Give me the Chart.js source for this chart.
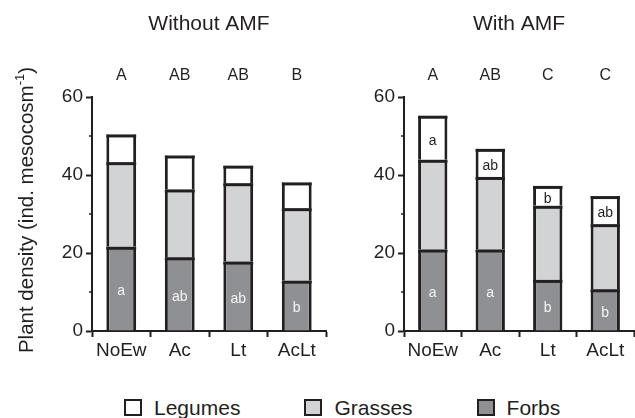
<!DOCTYPE html>
<html>
<head>
<meta charset="utf-8">
<script src="https://cdn.jsdelivr.net/npm/chart.js@4"></script>
<style>
  body { margin: 0; background: #fff; font-family: "Liberation Sans", Arial, sans-serif; }
  #wrap { position: relative; width: 635px; height: 418px; }
  #withoutChart { position: absolute; left: 0; top: 0; }
  #withChart { position: absolute; left: 330px; top: 0; }
  #legend { position: absolute; left: 124px; top: 396px; display: flex; gap: 64px; font-size: 21px; line-height: 23px; color: #231f20; }
  .item { display: flex; align-items: center; }
  .box { width: 14px; height: 13px; border: 2.5px solid #231f20; margin-right: 12px; }
</style>
</head>
<body>
<div id="wrap">
  <canvas id="withoutChart" width="330" height="360"></canvas>
  <canvas id="withChart" width="305" height="360"></canvas>
  <div id="legend"></div>
</div>
<script>
const categories = ['NoEw', 'Ac', 'Lt', 'AcLt']

// Without AMF
const forbsWithout = [21.6, 18.9, 17.8, 12.9]
const grassesWithout = [21.7, 17.4, 20.1, 18.6]
const legumesWithout = [7.1, 8.7, 4.5, 6.6]
const groupsWithout = ['A', 'AB', 'AB', 'B']
const forbLettersWithout = ['a', 'ab', 'ab', 'b']

// With AMF
const forbsWith = [20.9, 20.9, 13.1, 10.7]
const grassesWith = [23.0, 18.6, 19.0, 16.7]
const legumesWith = [11.3, 7.2, 5.1, 7.2]
const groupsWith = ['A', 'AB', 'C', 'C']
const forbLettersWith = ['a', 'a', 'b', 'b']
const legumeLettersWith = ['a', 'ab', 'b', 'ab']

const yMajorTicks = [0, 20, 40, 60]
const yMinorTicks = [10, 30, 50]

const ink = '#231f20'
const forbColor = '#8f9093'
const grassColor = '#d2d3d5'
const legumeColor = '#ffffff'
const fontFamily = '"Liberation Sans", Arial, sans-serif'

Chart.defaults.font.family = fontFamily
Chart.defaults.color = ink

// segment top edges, titles, group letters, letters inside bars, minor y ticks, y title with superscript
const letterPlugin = {
    id: 'letters',
    afterDatasetsDraw(chart, args, opts) {
        const ctx = chart.ctx
        const area = chart.chartArea
        const xScale = chart.scales.x
        const yScale = chart.scales.y
        ctx.save()

        // top edge of every stacked segment (chart.js drops some of them when stacked)
        ctx.strokeStyle = ink
        ctx.lineWidth = 3
        chart.data.datasets.forEach((ds, di) => {
            chart.getDatasetMeta(di).data.forEach(bar => {
                const p = bar.getProps(['x', 'y', 'width'], true)
                ctx.beginPath()
                ctx.moveTo(p.x - p.width / 2, p.y + 1.5)
                ctx.lineTo(p.x + p.width / 2, p.y + 1.5)
                ctx.stroke()
            })
        })

        ctx.fillStyle = ink
        ctx.textAlign = 'center'
        ctx.textBaseline = 'middle'
        ctx.font = '21px ' + fontFamily
        ctx.fillText(opts.title, (area.left + area.right) / 2, area.top - 73)
        ctx.font = '16px ' + fontFamily
        opts.groups.forEach((g, i) => ctx.fillText(g, xScale.getPixelForValue(i), area.top - 21))

        ctx.font = '14px ' + fontFamily
        chart.data.datasets.forEach((ds, di) => {
            if (!ds.letters) return
            ctx.fillStyle = ds.letterColor
            chart.getDatasetMeta(di).data.forEach((bar, i) => {
                const p = bar.getProps(['x', 'y', 'base'], true)
                ctx.fillText(ds.letters[i], p.x, (p.y + p.base) / 2 + 3)
            })
        })

        ctx.lineWidth = 1.5
        yMinorTicks.forEach(v => {
            const py = yScale.getPixelForValue(v)
            ctx.beginPath()
            ctx.moveTo(area.left - 3, py)
            ctx.lineTo(area.left, py)
            ctx.stroke()
        })

        if (opts.yTitle) {
            const main = 'Plant density (ind. mesocosm'
            const sup = '-1'
            const end = ')'
            const big = '20.5px ' + fontFamily
            const small = '13px ' + fontFamily
            ctx.font = big
            const w1 = ctx.measureText(main).width
            const w3 = ctx.measureText(end).width
            ctx.font = small
            const w2 = ctx.measureText(sup).width
            const total = w1 + w2 + w3
            ctx.translate(27, (area.top + area.bottom) / 2 - 4)
            ctx.rotate(-Math.PI / 2)
            ctx.textAlign = 'left'
            ctx.fillStyle = ink
            ctx.font = big
            ctx.fillText(main, -total / 2, 0)
            ctx.font = small
            ctx.fillText(sup, -total / 2 + w1, -7)
            ctx.font = big
            ctx.fillText(end, -total / 2 + w1 + w2, 0)
        }
        ctx.restore()
    }
}

function makeChart(id, forbs, grasses, legumes, opts) {
    return new Chart(document.getElementById(id), {
        type: 'bar',
        data: {
            labels: categories,
            datasets: [
                { label: 'Forbs', data: forbs, backgroundColor: forbColor, letters: opts.forbLetters, letterColor: '#f4f4f4' },
                { label: 'Grasses', data: grasses, backgroundColor: grassColor },
                { label: 'Legumes', data: legumes, backgroundColor: legumeColor, letters: opts.legumeLetters, letterColor: ink },
            ]
        },
        options: {
            responsive: false,
            animation: false,
            layout: { padding: { top: 97, right: opts.rightPad, left: 0, bottom: 0 } },
            datasets: {
                bar: {
                    barPercentage: 0.51,
                    categoryPercentage: 1,
                    borderColor: ink,
                    borderWidth: { left: 3, right: 3, top: 0, bottom: 0 },
                    borderSkipped: false,
                    inflateAmount: 0,
                }
            },
            plugins: {
                legend: { display: false },
                tooltip: { enabled: false },
                letters: { title: opts.title, groups: opts.groups, yTitle: opts.yTitle },
            },
            scales: {
                x: {
                    stacked: true,
                    grid: { offset: true, drawOnChartArea: false, tickLength: 6, tickWidth: 2, tickColor: ink },
                    border: { color: ink, width: 2 },
                    ticks: { color: ink, font: { size: 19 }, padding: 2 },
                    afterFit: s => { s.height = 29 },
                },
                y: {
                    stacked: true,
                    min: 0,
                    max: 60,
                    afterBuildTicks: s => { s.ticks = yMajorTicks.map(v => ({ value: v })) },
                    ticks: { color: ink, font: { size: 19 }, padding: 3 },
                    grid: { drawOnChartArea: false, tickLength: 6, tickWidth: 2, tickColor: ink },
                    border: { color: ink, width: 2 },
                    afterFit: s => { s.width = opts.yWidth },
                }
            }
        },
        plugins: [letterPlugin]
    })
}

makeChart('withoutChart', forbsWithout, grassesWithout, legumesWithout, {
    title: 'Without AMF', groups: groupsWithout, forbLetters: forbLettersWithout, legumeLetters: null,
    yTitle: true, yWidth: 92, rightPad: 4,
})
makeChart('withChart', forbsWith, grassesWith, legumesWith, {
    title: 'With AMF', groups: groupsWith, forbLetters: forbLettersWith, legumeLetters: legumeLettersWith,
    yTitle: false, yWidth: 74, rightPad: 1,
})

// legend, top to bottom of the stack
const legendItems = [['Legumes', legumeColor], ['Grasses', grassColor], ['Forbs', forbColor]]
document.getElementById('legend').innerHTML = legendItems.map(([name, color]) =>
    `<div class="item"><span class="box" style="background:${color}"></span>${name}</div>`).join('')
</script>
</body>
</html>
